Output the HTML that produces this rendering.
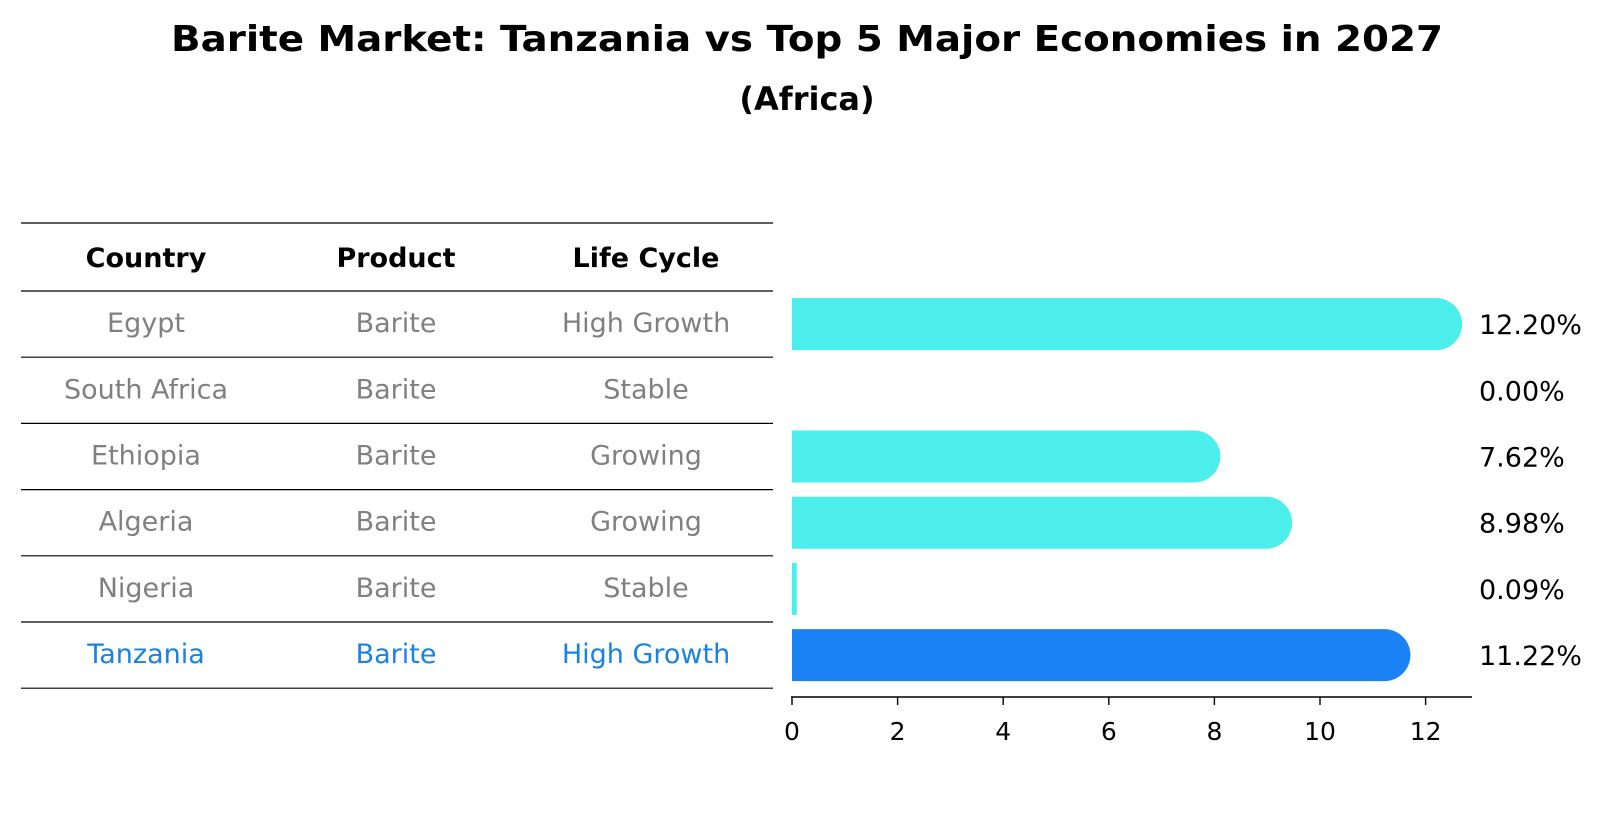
<!DOCTYPE html>
<html><head><meta charset="utf-8"><style>
body{margin:0;background:#fff;}
svg{display:block;font-family:"DejaVu Sans","Liberation Sans",sans-serif;}
</style></head><body>
<svg id="chart" width="1604" height="823" viewBox="0 0 1604 823" xmlns="http://www.w3.org/2000/svg">
<text x="807" y="51" text-anchor="middle" font-size="36" font-weight="bold" textLength="1272" lengthAdjust="spacingAndGlyphs">Barite Market: Tanzania vs Top 5 Major Economies in 2027</text>
<text x="807" y="110" text-anchor="middle" font-size="32" font-weight="bold">(Africa)</text>
<g id="table"></g>
<g id="bars"></g>
</svg>
<script>
const countries = ["Egypt","South Africa","Ethiopia","Algeria","Nigeria","Tanzania"];
const products = ["Barite","Barite","Barite","Barite","Barite","Barite"];
const lifeCycles = ["High Growth","Stable","Growing","Growing","Stable","High Growth"];
const values = [12.20, 0.00, 7.62, 8.98, 0.09, 11.22];
const valueLabels = ["12.20%","0.00%","7.62%","8.98%","0.09%","11.22%"];
const ticks = [0,2,4,6,8,10,12];
const highlight = "Tanzania";

const NS="http://www.w3.org/2000/svg";
const table=document.getElementById('table');
const bars=document.getElementById('bars');
function mk(tag,attrs,parent,text){const e=document.createElementNS(NS,tag);for(const k in attrs)e.setAttribute(k,attrs[k]);if(text!==undefined)e.textContent=text;parent.appendChild(e);return e;}
const x0=792, unit=52.8;
const xs=v=>x0+v*unit;
const rowTop=291, rowH=66.2;
const yc=i=>rowTop+rowH*(i+0.5);
const colX=[146,396,646];
for(let i=0;i<=countries.length+1;i++){
  const y = i===0?223:rowTop+rowH*(i-1);
  const l=mk('line',{x1:21,x2:773,y1:y,y2:y,stroke:'#000','stroke-width':1.2},table);
  
  
}
const heads=["Country","Product","Life Cycle"];
heads.forEach((h,j)=>{
  const t=mk('text',{x:colX[j],y:267,'text-anchor':'middle','font-size':27,'font-weight':'bold'},table,h);
  
  
});
countries.forEach((c,i)=>{
  const col=c===highlight?'#1a82e2':'#808080';
  [c,products[i],lifeCycles[i]].forEach((v,j)=>{
    const t=mk('text',{x:colX[j],y:yc(i)+8,'text-anchor':'middle','font-size':27,fill:col},table,v);
    
    
  });
});
const bh=52;
values.forEach((v,i)=>{
  if(v>0){
    const col=countries[i]===highlight?'#1a82f5':'#4beeea';
    const w=xs(v)-x0;
    const r=bh/2;
    const yTop=yc(i)-bh/2;
    let d;
    if(w>r){
      d=`M${x0},${yTop} H${x0+w} A${r},${r} 0 0 1 ${x0+w},${yTop+bh} H${x0} Z`;
    } else {
      d=`M${x0},${yTop} H${x0+Math.max(w,4)} V${yTop+bh} H${x0} Z`;
    }
    const p=mk('path',{d:d,fill:col},bars);
    
    
  }
  const t=mk('text',{x:1479,y:yc(i)+10,'font-size':27,fill:'#000'},bars,valueLabels[i]);
  
  
});
const ax=mk('line',{x1:x0-1,x2:1472,y1:697,y2:697,stroke:'#000','stroke-width':1.6},bars);


ticks.forEach(t=>{
  const l=mk('line',{x1:xs(t),x2:xs(t),y1:697,y2:705,stroke:'#000','stroke-width':1.4},bars);
  
  
  const tx=mk('text',{x:xs(t),y:740,'text-anchor':'middle','font-size':25},bars,String(t));
  
  
});
</script>
</body></html>
